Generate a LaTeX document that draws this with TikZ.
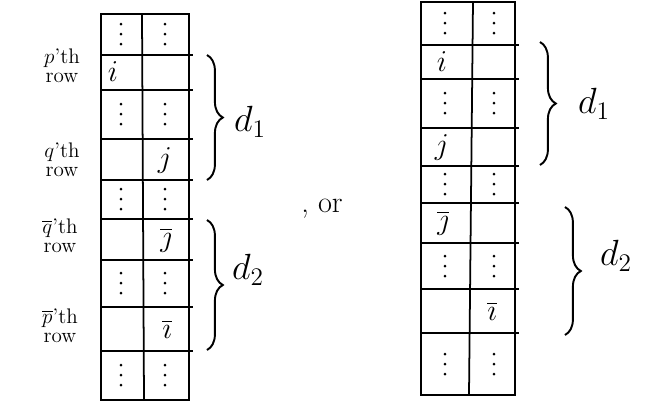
\documentclass[tikz,border=0pt]{standalone}
\usepackage{amsmath}
\usetikzlibrary{decorations.pathreplacing, calc}
\tikzset{
  gridline/.style={line width=1pt},
  cellsym/.style={font=\LARGE, inner sep=0pt},
  rowlabel/.style={font=\large, align=center, inner sep=1pt},
  dbrace/.style={decorate, decoration={brace, amplitude=9pt}, line width=1.1pt},
  dlabel/.style={font=\huge},
  vdotcell/.pic={
    \fill (0,-10) circle (0.85pt);
    \fill (0,0) circle (0.85pt);
    \fill (0,10) circle (0.85pt);
  },
}

\begin{document}
\begin{tikzpicture}[x=0.02cm, y=-0.02cm]
  \useasboundingbox (0,0) rectangle (664,414);
  % Left table: frame, column split, row lines
  \draw[gridline] (101,14) rectangle (189,400);
  \draw[gridline] (142,14) -- (144,400);
  \foreach \y in {55,90,139,180,219,260,307,351}
    \draw[gridline] (101,\y) -- (193,\y);
  % dotted cells
  \foreach \y in {34,114,199,283,375} {
    \pic (lda\y) at (121,\y) {vdotcell};
    \pic (ldb\y) at (165,\y) {vdotcell};
  }
  % entries
  \node[cellsym] (li) at (113,72) {$i$};
  \node[cellsym] (lj) at (165,160) {$j$};
  \node[cellsym] (ljbar) at (166,240) {$\overline{\jmath}$};
  \node[cellsym] (libar) at (167,329) {$\overline{\imath}$};
  % row labels
  \node[rowlabel] (lp) at (62,66) {$p$'th\\[-3pt]row};
  \node[rowlabel] (lq) at (62,160) {$q$'th\\[-3pt]row};
  \node[rowlabel] (lqbar) at (60,236) {$\overline{q}$'th\\[-3pt]row};
  \node[rowlabel] (lpbar) at (60,326) {$\overline{p}$'th\\[-3pt]row};
  % braces
  \coordinate (ld1top) at (207,55);
  \coordinate (ld1bot) at (207,180);
  \coordinate (ld2top) at (207,220);
  \coordinate (ld2bot) at (207,350);
  \draw[dbrace] (ld1top) -- (ld1bot);
  \draw[dbrace] (ld2top) -- (ld2bot);
  \node[dlabel] (ld1) at (250,122) {$d_1$};
  \node[dlabel] (ld2) at (248,270) {$d_2$};
  % separator
  \node[font=\LARGE] (orword) at (322,209) {, or};
  % Right table
  \draw[gridline] (421,2) rectangle (515,395);
  \draw[gridline] (473,2) -- (469,395);
  \foreach \y in {45,79,128,166,203,243,289,333}
    \draw[gridline] (421,\y) -- (519,\y);
  \foreach \y in {23,103,184,266,364} {
    \pic (rda\y) at (445,\y) {vdotcell};
    \pic (rdb\y) at (494,\y) {vdotcell};
  }
  \node[cellsym] (ri) at (442,62) {$i$};
  \node[cellsym] (rj) at (442,147) {$j$};
  \node[cellsym] (rjbar) at (443,223) {$\overline{\jmath}$};
  \node[cellsym] (ribar) at (492,311) {$\overline{\imath}$};
  % braces
  \coordinate (rd1top) at (540,42);
  \coordinate (rd1bot) at (540,165);
  \coordinate (rd2top) at (565,207);
  \coordinate (rd2bot) at (565,335);
  \draw[dbrace] (rd1top) -- (rd1bot);
  \draw[dbrace] (rd2top) -- (rd2bot);
  \node[dlabel] (rd1) at (594,104) {$d_1$};
  \node[dlabel] (rd2) at (616,256) {$d_2$};
\end{tikzpicture}
\end{document}
